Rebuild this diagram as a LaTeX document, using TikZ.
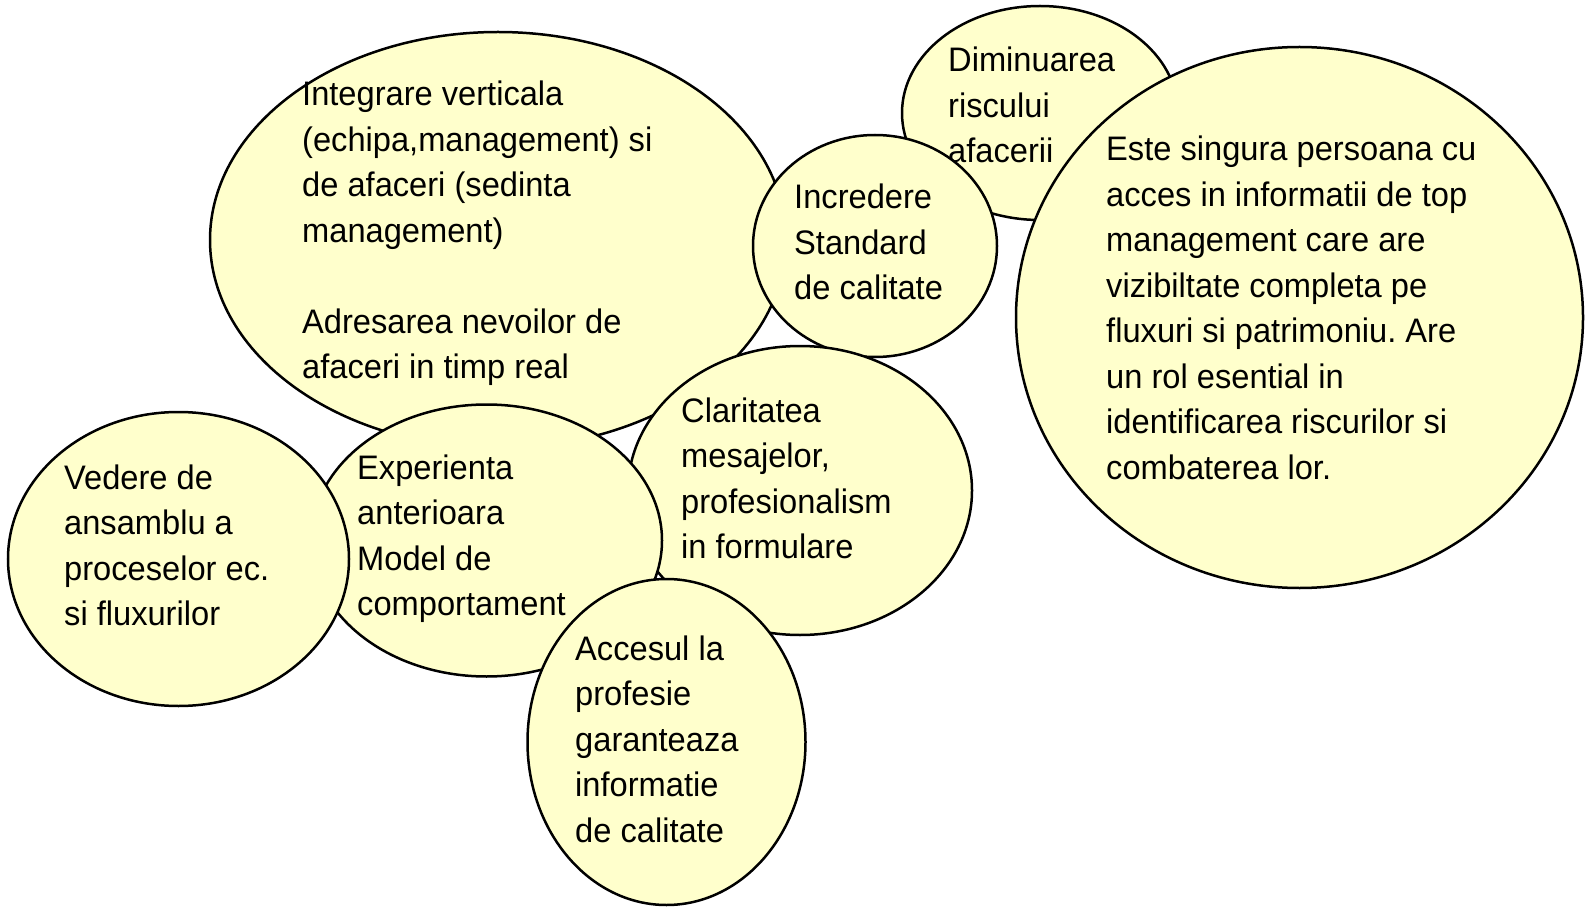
\documentclass[tikz,border=0pt]{standalone}
\usepackage{fontspec}
\setmainfont{Liberation Sans}[FakeStretch=0.96]
\usetikzlibrary{shapes.geometric}
\definecolor{blobfill}{HTML}{FFFFCC}
\newcommand{\blobtext}[1]{\begin{tabular}[t]{@{}l@{}}#1\end{tabular}}
\tikzset{
  blob/.style={ellipse, draw=black, line width=2.5pt, fill=blobfill, inner sep=0pt, outer sep=0pt},
  blobtxt/.style={anchor=base west, inner sep=0pt, font=\fontsize{34pt}{45.5pt}\selectfont\frenchspacing}
}
\begin{document}
\frenchspacing
\begin{tikzpicture}[x=1pt,y=-1pt]
\useasboundingbox[fill=white] (0,0) rectangle (1585,909);
% big upper-left
\node[blob, minimum width=576pt, minimum height=416pt] (integ) at (498,240) {};
\node[blobtxt] (tinteg) at (302,106) {\blobtext{Integrare verticala\\(echipa,management) si\\de afaceri (sedinta\\management)\\ \\Adresarea nevoilor de\\afaceri in timp real}};
% Diminuarea
\node[blob, minimum width=276pt, minimum height=214pt] (dimin) at (1040,113) {};
\node[blobtxt] (tdimin) at (948,72) {\blobtext{Diminuarea\\riscului\\afacerii}};
% Incredere
\node[blob, minimum width=244pt, minimum height=222pt] (incr) at (875,246) {};
\node[blobtxt] (tincr) at (794,209) {\blobtext{Incredere\\Standard\\de calitate}};
% big right
\node[blob, minimum width=567pt, minimum height=541pt] (este) at (1299.5,317.5) {};
\node[blobtxt] (teste) at (1106,161) {\blobtext{Este singura persoana cu\\acces in informatii de top\\management care are\\vizibiltate completa pe\\fluxuri si patrimoniu. Are\\un rol esential in\\identificarea riscurilor si\\combaterea lor.}};
% Claritatea
\node[blob, minimum width=344pt, minimum height=289pt] (clar) at (800,490.5) {};
\node[blobtxt] (tclar) at (681,422) {\blobtext{Claritatea\\mesajelor,\\profesionalism\\in formulare}};
% Experienta
\node[blob, minimum width=351pt, minimum height=272pt] (exper) at (486.5,540.5) {};
\node[blobtxt] (texper) at (357,479) {\blobtext{Experienta\\anterioara\\Model de\\comportament}};
% Vedere
\node[blob, minimum width=341pt, minimum height=294pt] (veder) at (178.5,559) {};
\node[blobtxt] (tveder) at (64,489) {\blobtext{Vedere de\\ansamblu a\\proceselor ec.\\si fluxurilor}};
% Accesul
\node[blob, minimum width=278pt, minimum height=326pt] (acces) at (666.5,742) {};
\node[blobtxt] (tacces) at (575,660) {\blobtext{Accesul la\\profesie\\garanteaza\\informatie\\de calitate}};
\end{tikzpicture}
\end{document}
